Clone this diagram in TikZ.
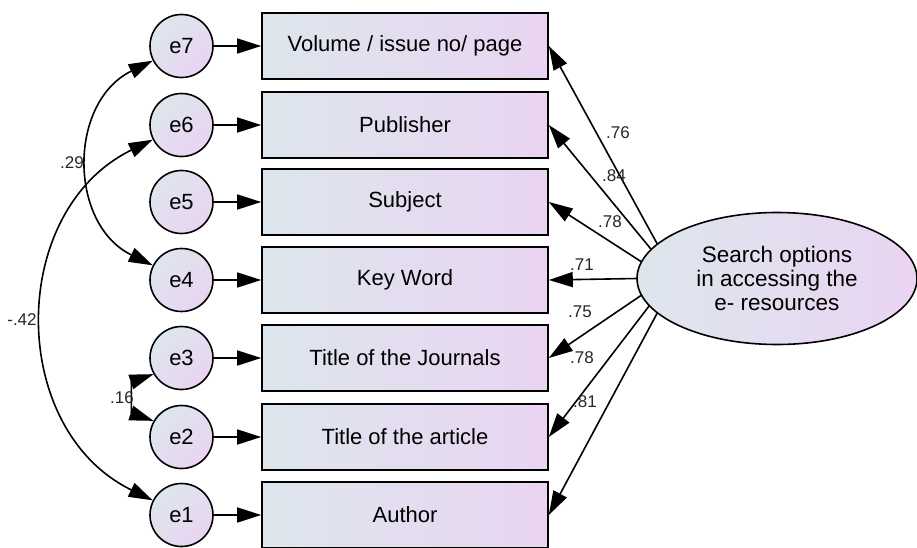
\documentclass[tikz,border=0pt]{standalone}
\usepackage{fontspec}
\setmainfont{Liberation Sans}
\usetikzlibrary{arrows.meta,shapes.geometric}
\definecolor{fillL}{RGB}{221,230,236}
\definecolor{fillR}{RGB}{234,212,242}
\tikzset{
  errc/.style={circle,draw,line width=1.6pt,minimum size=63pt,inner sep=0pt,
    left color=fillL,right color=fillR,shading angle=45,
    font=\fontsize{22}{24}\selectfont},
  obsbox/.style={rectangle,draw,line width=1.6pt,minimum width=286pt,minimum height=66pt,
    inner sep=0pt,left color=fillL,right color=fillR,font=\fontsize{22}{24}\selectfont},
  latent/.style={ellipse,draw,line width=1.6pt,minimum width=280pt,minimum height=132pt,
    inner sep=0pt,outer sep=0pt,left color=fillL,right color=fillR,align=center,
    font=\fontsize{22.5}{24}\selectfont},
  tip/.style={-{Triangle[length=24pt,width=15pt]}},
  conn/.style={line width=1.6pt,tip},
  corr/.style={line width=1.6pt,{Triangle[length=24pt,width=15pt]}-{Triangle[length=24pt,width=15pt]}},
  lab/.style={inner sep=0pt,font=\fontsize{17}{18}\selectfont,text=black!85}
}
\begin{document}
\begin{tikzpicture}[x=1pt,y=-1pt]
\useasboundingbox (0,0) rectangle (917,548);
% error circles
\node[errc] (e7) at (181.5,46) {e7};
\node[errc] (e6) at (181.5,125) {e6};
\node[errc] (e5) at (181.5,202) {e5};
\node[errc] (e4) at (181.5,280) {e4};
\node[errc] (e3) at (181.5,358) {e3};
\node[errc] (e2) at (181.5,437) {e2};
\node[errc] (e1) at (181.5,515) {e1};
% observed boxes
\node[obsbox] (b7) at (405,46) {Volume / issue no/ page};
\node[obsbox] (b6) at (405,125) {Publisher};
\node[obsbox] (b5) at (405,202) {Subject};
\node[obsbox] (b4) at (405,280) {Key Word};
\node[obsbox] (b3) at (405,358) {Title of the Journals};
\node[obsbox] (b2) at (405,437) {Title of the article};
\node[obsbox] (b1) at (405,515) {Author};
% latent
\node[latent] (ell) at (777,278.5) {Search options\\in accessing the\\e- resources};
% error arrows
\foreach \i in {1,...,7}{\draw[conn] (e\i.east) -- (b\i.west);}
% loadings
\draw[conn] (ell.164) -- (b7.east);
\draw[conn] (ell.167.5) -- (b6.east);
\draw[conn] (ell.173) -- (b5.east);
\draw[conn] (ell.180) -- (b4.east);
\draw[conn] (ell.187) -- (b3.east);
\draw[conn] (ell.192.5) -- (b2.east);
\draw[conn] (ell.196) -- (b1.east);
% correlations
\draw[corr] (e7.207) to[out=206,in=154,looseness=1.18] (e4.153);
\draw[corr] (e6.207) to[out=206,in=154,looseness=1.15] (e1.153);
\draw[corr] (e3.210) to[out=199,in=161,looseness=1.28] (e2.150);
% labels
\node[lab] (l29) at (72,163) {.29};
\node[lab] (l42) at (22,320) {-.42};
\node[lab] (l16) at (122,398) {.16};
\node[lab] (l76) at (618,133) {.76};
\node[lab] (l84) at (614,176) {.84};
\node[lab] (l78a) at (610,222) {.78};
\node[lab] (l71) at (582,265) {.71};
\node[lab] (l75) at (580,312) {.75};
\node[lab] (l78b) at (582,358) {.78};
\node[lab] (l81) at (585,402) {.81};
\end{tikzpicture}
\end{document}
